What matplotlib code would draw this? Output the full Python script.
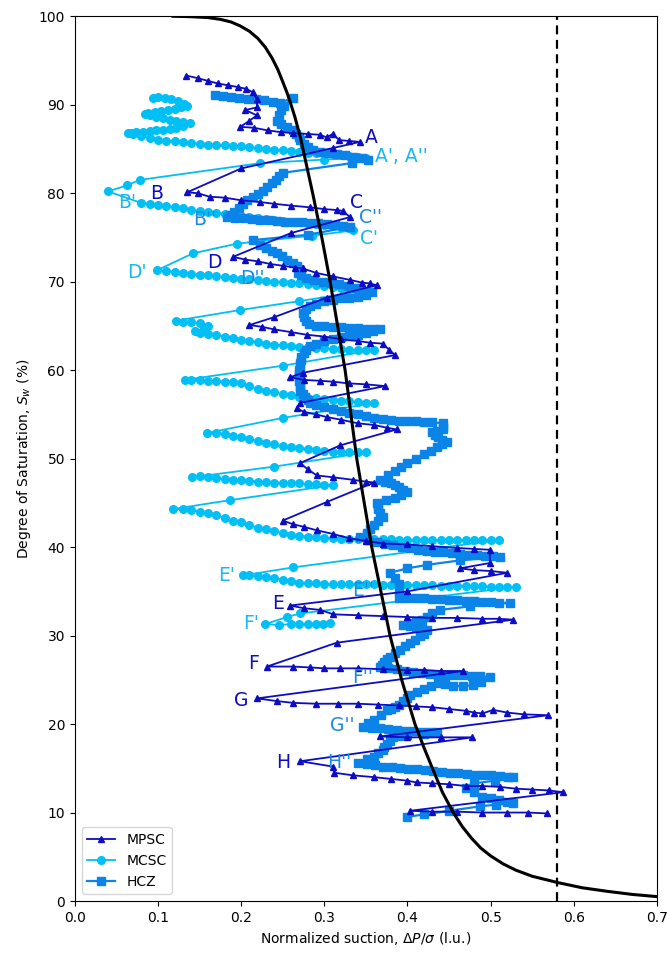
import matplotlib
matplotlib.use("Agg")
import matplotlib.pyplot as plt

# ---- retention curve ----
curve_x = [0.118, 0.140, 0.160, 0.175, 0.188, 0.199, 0.210, 0.220, 0.229, 0.237, 0.244, 0.250,
           0.255, 0.259, 0.265, 0.272, 0.279, 0.286, 0.297, 0.307, 0.316, 0.325, 0.332, 0.339,
           0.348, 0.357, 0.368, 0.379, 0.393, 0.409, 0.420, 0.430, 0.442, 0.455, 0.466, 0.477,
           0.488, 0.500, 0.515, 0.530, 0.550, 0.580, 0.610, 0.640, 0.670, 0.700]
curve_y = [100.0, 99.95, 99.85, 99.65, 99.35, 98.9, 98.3, 97.5, 96.5, 95.3, 94.0, 92.6,
           91.4, 90.3, 88.5, 86.0, 83.0, 80.0, 75.0, 70.0, 65.0, 60.0, 55.0, 50.0,
           45.0, 40.0, 35.0, 30.0, 25.0, 20.0, 17.3, 15.0, 12.3, 10.0, 8.4, 7.1,
           6.0, 5.1, 4.2, 3.5, 2.8, 2.1, 1.5, 1.1, 0.75, 0.5]

threshold_x = 0.58

# ---- MPSC ----
mpsc_x = [0.134, 0.148, 0.160, 0.172, 0.184, 0.196, 0.206, 0.214, 0.219,
          0.219, 0.205, 0.219, 0.210, 0.199,
          0.215, 0.232, 0.248, 0.262, 0.280, 0.295, 0.303, 0.310, 0.318, 0.330, 0.343,
          0.310, 0.200, 0.135,
          0.148, 0.162, 0.180, 0.200, 0.223, 0.240, 0.260, 0.283, 0.300, 0.315, 0.322, 0.331,
          0.260, 0.190,
          0.205, 0.220, 0.235, 0.250, 0.265, 0.274, 0.290, 0.310, 0.331, 0.345, 0.355, 0.363,
          0.303, 0.240, 0.210,
          0.225, 0.240, 0.260, 0.279, 0.300, 0.320, 0.340, 0.355, 0.370, 0.378, 0.385,
          0.274, 0.259, 0.275, 0.295, 0.310, 0.330, 0.350, 0.373,
          0.271, 0.267, 0.275, 0.290, 0.303, 0.320, 0.340, 0.360, 0.375, 0.387,
          0.319, 0.271, 0.280, 0.291, 0.310, 0.335, 0.350, 0.360,
          0.303, 0.250,
          0.262, 0.275, 0.291, 0.310, 0.330, 0.350, 0.371, 0.400, 0.430, 0.460, 0.480, 0.499,
          0.499, 0.463, 0.480, 0.500, 0.520,
          0.400, 0.259,
          0.275, 0.295, 0.311, 0.340, 0.370, 0.400, 0.430, 0.460, 0.490, 0.510, 0.527,
          0.315, 0.231,
          0.262, 0.283, 0.300, 0.319, 0.340, 0.370, 0.400, 0.420, 0.440, 0.467,
          0.219,
          0.243, 0.262, 0.290, 0.316, 0.340, 0.365, 0.390, 0.410, 0.430, 0.450, 0.470, 0.480,
          0.490, 0.503, 0.520, 0.540, 0.569,
          0.367, 0.400, 0.440, 0.478,
          0.271,
          0.310, 0.312, 0.335, 0.360, 0.380, 0.400, 0.411, 0.430, 0.450, 0.470, 0.490, 0.511,
          0.530, 0.550, 0.570, 0.587,
          0.403,
          0.430, 0.460, 0.490, 0.520, 0.545, 0.568]
mpsc_y = [93.3, 93.0, 92.7, 92.4, 92.2, 92.0, 91.8, 91.4, 90.6,
          89.7, 89.4, 88.8, 88.2, 87.5,
          87.4, 87.1, 86.9, 86.8, 86.7, 86.6, 86.3, 86.7, 86.0, 85.9, 85.8,
          85.1, 82.8, 80.1,
          80.0, 79.6, 79.5, 79.2, 79.0, 78.8, 78.6, 78.4, 78.2, 78.1, 78.0, 77.3,
          75.5, 72.8,
          72.5, 72.3, 72.0, 71.8, 71.6, 71.5, 71.0, 70.6, 70.2, 69.9, 69.8, 69.6,
          68.2, 66.0, 65.1,
          64.9, 64.6, 64.3, 64.0, 63.8, 63.5, 63.3, 63.1, 63.0, 62.3, 61.7,
          59.7, 59.2, 58.9, 58.8, 58.7, 58.5, 58.4, 58.2,
          56.3, 55.7, 55.3, 55.0, 54.7, 54.4, 54.0, 53.8, 53.5, 53.3,
          51.5, 49.5, 48.8, 48.1, 47.9, 47.6, 47.4, 47.3,
          45.1, 43.0,
          42.6, 42.3, 41.9, 41.5, 41.0, 40.7, 40.4, 40.3, 40.1, 39.9, 39.8, 39.7,
          38.2, 37.6, 37.4, 37.3, 37.1,
          35.0, 33.4,
          33.1, 32.9, 32.4, 32.3, 32.2, 32.1, 32.0, 32.0, 31.9, 31.9, 31.8,
          29.2, 26.5,
          26.5, 26.4, 26.3, 26.3, 26.3, 26.2, 26.1, 26.1, 26.0, 26.0,
          22.9,
          22.6, 22.4, 22.3, 22.3, 22.3, 22.2, 22.1, 22.0, 21.9, 21.7, 21.5, 21.3,
          21.2, 21.6, 21.3, 21.1, 21.0,
          18.6, 18.5, 18.5, 18.5,
          15.8,
          15.2, 14.5, 14.2, 14.0, 13.8, 13.6, 13.4, 13.3, 13.2, 13.0, 13.0, 12.9,
          12.7, 12.6, 12.5, 12.3,
          10.2,
          10.1, 10.1, 10.0, 10.0, 10.0, 9.9]

# ---- MCSC ----
mcsc_x = [0.094, 0.100, 0.108, 0.116, 0.124, 0.131, 0.135, 0.128, 0.120, 0.112, 0.104, 0.096,
          0.088, 0.084, 0.090, 0.098, 0.106, 0.114, 0.122, 0.130, 0.138, 0.130, 0.122, 0.114,
          0.106, 0.098, 0.090, 0.082, 0.074, 0.068, 0.064,
          0.07, 0.08, 0.09, 0.10, 0.11, 0.12, 0.13, 0.14, 0.15, 0.16, 0.17, 0.18, 0.19, 0.20,
          0.21, 0.22, 0.23, 0.24, 0.25, 0.26, 0.27, 0.28, 0.29, 0.30, 0.31, 0.32, 0.33, 0.34, 0.35,
          0.300, 0.223, 0.078, 0.063, 0.040,
          0.08, 0.09, 0.10, 0.11, 0.12, 0.13, 0.14, 0.15, 0.16, 0.17, 0.18, 0.19, 0.20,
          0.21, 0.22, 0.23, 0.24, 0.25, 0.26, 0.27, 0.28, 0.29, 0.30, 0.31, 0.32, 0.33,
          0.335, 0.285, 0.195, 0.142, 0.099,
          0.11, 0.12, 0.13, 0.14, 0.15, 0.16, 0.17, 0.18, 0.19, 0.20, 0.21, 0.22, 0.23,
          0.24, 0.25, 0.26, 0.27, 0.28, 0.29, 0.30, 0.31, 0.32, 0.33, 0.34, 0.35,
          0.270, 0.199, 0.122,
          0.130, 0.140, 0.150, 0.160, 0.155, 0.145, 0.150, 0.160, 0.170,
          0.18, 0.19, 0.20, 0.21, 0.22, 0.23, 0.24, 0.25, 0.26, 0.27, 0.28, 0.29, 0.30,
          0.31, 0.32, 0.33, 0.34, 0.35, 0.36,
          0.250, 0.132,
          0.14, 0.15, 0.16, 0.17, 0.18, 0.19, 0.20, 0.21, 0.22, 0.23, 0.24, 0.25,
          0.26, 0.27, 0.28, 0.29, 0.30, 0.31, 0.32, 0.33, 0.34, 0.35, 0.36,
          0.250, 0.159,
          0.17, 0.18, 0.19, 0.20, 0.21, 0.22, 0.23, 0.24, 0.25, 0.26, 0.27, 0.28,
          0.29, 0.30, 0.31, 0.32, 0.33, 0.34, 0.35,
          0.240, 0.141,
          0.15, 0.16, 0.17, 0.18, 0.19, 0.20, 0.21, 0.22, 0.23, 0.24, 0.25, 0.26,
          0.27, 0.28, 0.29, 0.30, 0.31,
          0.186, 0.118,
          0.13, 0.14, 0.15, 0.16, 0.17, 0.18, 0.19, 0.20, 0.21, 0.22, 0.23, 0.24, 0.25,
          0.26, 0.27, 0.28, 0.29, 0.30, 0.31, 0.32, 0.33, 0.34, 0.35, 0.36, 0.37, 0.38,
          0.39, 0.40, 0.41, 0.42, 0.43, 0.44, 0.45, 0.46, 0.47, 0.48, 0.49, 0.50, 0.51,
          0.262, 0.202,
          0.21, 0.22, 0.23, 0.24, 0.25, 0.26, 0.27, 0.28, 0.29, 0.30, 0.31, 0.32, 0.33,
          0.34, 0.35, 0.36, 0.37, 0.38, 0.39, 0.40, 0.41, 0.42, 0.43, 0.44, 0.45, 0.46,
          0.47, 0.48, 0.49, 0.50, 0.51, 0.52, 0.53,
          0.271, 0.255, 0.229,
          0.245, 0.260, 0.270, 0.280, 0.290, 0.298, 0.307]
mcsc_y = [90.8, 90.9, 90.8, 90.6, 90.4, 90.1, 89.9, 89.7, 89.5, 89.4, 89.3, 89.2,
          89.1, 89.0, 88.8, 88.6, 88.5, 88.3, 88.2, 88.0, 87.9, 87.6, 87.4, 87.3,
          87.2, 87.1, 87.0, 86.9, 86.9, 86.8, 86.8,
          86.7, 86.5, 86.2, 86.0, 85.9, 85.9, 85.8, 85.7, 85.6, 85.5, 85.5, 85.4, 85.3, 85.3,
          85.2, 85.1, 85.0, 84.9, 84.9, 84.8, 84.7, 84.6, 84.5, 84.5, 84.4, 84.3, 84.2, 84.1, 84.0,
          83.8, 83.4, 81.5, 80.9, 80.2,
          78.9, 78.8, 78.7, 78.6, 78.4, 78.3, 78.1, 78.0, 77.9, 77.8, 77.7, 77.6, 77.4,
          77.3, 77.2, 77.1, 77.0, 76.9, 76.8, 76.7, 76.6, 76.5, 76.4, 76.3, 76.2, 76.1,
          75.8, 75.2, 74.3, 73.2, 71.3,
          71.2, 71.1, 71.0, 70.9, 70.8, 70.7, 70.6, 70.5, 70.4, 70.3, 70.3, 70.2, 70.1,
          70.0, 70.0, 69.9, 69.8, 69.7, 69.6, 69.5, 69.4, 69.3, 69.2, 69.1, 69.0,
          67.8, 66.8, 65.6,
          65.5, 65.4, 65.3, 65.0, 64.7, 64.4, 64.2, 64.1, 64.0,
          63.8, 63.6, 63.4, 63.3, 63.2, 63.0, 62.9, 62.8, 62.7, 62.6, 62.6, 62.5, 62.5,
          62.4, 62.4, 62.3, 62.3, 62.3, 62.3,
          60.5, 58.9,
          58.9, 58.9, 58.8, 58.8, 58.7, 58.7, 58.5, 58.2, 57.9, 57.7, 57.5, 57.3,
          57.2, 57.0, 56.9, 56.8, 56.7, 56.6, 56.5, 56.5, 56.4, 56.3, 56.3,
          54.6, 52.9,
          52.9, 52.8, 52.6, 52.4, 52.2, 52.0, 51.8, 51.6, 51.4, 51.3, 51.2, 51.1,
          51.0, 50.9, 50.8, 50.8, 50.7, 50.7, 50.7,
          49.1, 47.9,
          48.0, 47.9, 47.8, 47.7, 47.6, 47.6, 47.5, 47.4, 47.4, 47.3, 47.3, 47.2,
          47.2, 47.1, 47.1, 47.0, 47.0,
          45.3, 44.3,
          44.3, 44.2, 44.0, 43.8, 43.6, 43.3, 43.0, 42.8, 42.5, 42.2, 42.0, 41.8, 41.6,
          41.4, 41.3, 41.2, 41.1, 41.0, 41.0, 40.9, 40.9, 40.9, 40.9, 40.9, 40.9, 40.9,
          40.8, 40.8, 40.8, 40.8, 40.8, 40.8, 40.8, 40.8, 40.8, 40.8, 40.8, 40.8, 40.8,
          37.7, 36.8,
          36.8, 36.7, 36.6, 36.5, 36.3, 36.2, 36.0, 35.9, 35.9, 35.8, 35.8, 35.8, 35.8,
          35.8, 35.8, 35.8, 35.7, 35.7, 35.7, 35.7, 35.7, 35.7, 35.7, 35.6, 35.6, 35.6,
          35.6, 35.6, 35.6, 35.5, 35.5, 35.5, 35.5,
          32.5, 32.1, 31.3,
          31.2, 31.3, 31.3, 31.3, 31.3, 31.3, 31.4]

# ---- HCZ ----
hcz_x = [0.168, 0.178, 0.188, 0.198, 0.208, 0.218, 0.228, 0.238, 0.247, 0.262,
         0.252, 0.248, 0.245, 0.243, 0.248, 0.255, 0.262, 0.266, 0.269, 0.271, 0.275, 0.280, 0.286,
         0.295, 0.305, 0.315, 0.325, 0.335, 0.345, 0.352,
         0.333, 0.250,
         0.246, 0.242, 0.237, 0.231, 0.226, 0.220, 0.214, 0.207, 0.202, 0.197, 0.192, 0.187, 0.183,
         0.193, 0.203, 0.213, 0.223, 0.233, 0.243, 0.253, 0.263, 0.273, 0.283, 0.293, 0.303,
         0.313, 0.323, 0.331,
         0.280, 0.214,
         0.223, 0.230, 0.237, 0.243, 0.249, 0.255, 0.262, 0.267, 0.270, 0.268, 0.272, 0.278,
         0.288, 0.298, 0.308, 0.318, 0.328, 0.338, 0.348, 0.357,
         0.350, 0.340, 0.330, 0.320, 0.310, 0.300, 0.290, 0.283, 0.278, 0.274, 0.275, 0.278, 0.282,
         0.290, 0.300, 0.310, 0.320, 0.330, 0.340, 0.350, 0.360, 0.367,
         0.358, 0.350, 0.340, 0.330, 0.320, 0.310, 0.300, 0.290, 0.283, 0.278, 0.275, 0.272,
         0.272, 0.271, 0.271, 0.270, 0.270, 0.270, 0.270, 0.271, 0.271, 0.271, 0.274, 0.277,
         0.280, 0.283,
         0.290, 0.300, 0.310, 0.320, 0.330, 0.340, 0.350, 0.360, 0.370, 0.380, 0.390, 0.400,
         0.410, 0.420, 0.430, 0.443,
         0.443, 0.443, 0.436, 0.430, 0.433, 0.437, 0.442, 0.447,
         0.441, 0.435, 0.428, 0.420, 0.410, 0.400, 0.392, 0.385, 0.376, 0.367, 0.373, 0.380,
         0.385, 0.390, 0.395, 0.400, 0.392, 0.385, 0.374, 0.363, 0.364, 0.365, 0.367, 0.370,
         0.365, 0.360, 0.355, 0.351, 0.343,
         0.353, 0.363, 0.373, 0.383, 0.393, 0.403, 0.413, 0.423, 0.433, 0.443, 0.453, 0.463,
         0.473, 0.483, 0.493, 0.503, 0.511,
         0.463, 0.424, 0.400, 0.379, 0.385, 0.390, 0.390, 0.390,
         0.400, 0.410, 0.420, 0.430, 0.440, 0.450, 0.460, 0.470, 0.480, 0.490, 0.500, 0.510, 0.523,
         0.475, 0.439, 0.430, 0.424, 0.417, 0.410, 0.403, 0.395, 0.403, 0.410, 0.417, 0.424,
         0.420, 0.415, 0.409, 0.403, 0.397, 0.391, 0.385, 0.379, 0.375, 0.372, 0.369, 0.367,
         0.377, 0.387, 0.397, 0.407, 0.417, 0.427, 0.437, 0.447, 0.457, 0.467, 0.477, 0.487, 0.499,
         0.489, 0.479, 0.467, 0.455, 0.445, 0.437, 0.428, 0.420, 0.411, 0.403, 0.399, 0.395,
         0.390, 0.385, 0.380, 0.375, 0.368, 0.360, 0.353, 0.347,
         0.357, 0.367, 0.377, 0.387, 0.397, 0.407, 0.417, 0.427, 0.436,
         0.420, 0.400, 0.390, 0.383, 0.379, 0.375, 0.372, 0.370, 0.365, 0.360, 0.351, 0.341,
         0.351, 0.361, 0.371, 0.381, 0.391, 0.401, 0.411, 0.421, 0.431, 0.441, 0.451, 0.461,
         0.471, 0.481, 0.491, 0.501, 0.511, 0.521, 0.527,
         0.505, 0.480, 0.470, 0.480, 0.490, 0.500, 0.510, 0.520, 0.527, 0.507, 0.487, 0.450,
         0.420, 0.399]
hcz_y = [91.1, 91.0, 90.9, 90.8, 90.7, 90.6, 90.5, 90.3, 90.2, 90.8,
         89.9, 89.4, 88.8, 88.2, 87.8, 87.5, 87.1, 86.7, 86.3, 86.0, 85.6, 85.2, 84.9,
         84.7, 84.6, 84.4, 84.3, 84.1, 84.0, 83.7,
         83.4, 82.3,
         81.9, 81.5, 81.1, 80.7, 80.3, 79.9, 79.6, 79.2, 78.8, 78.3, 77.9, 77.5, 77.3,
         77.2, 77.2, 77.1, 77.0, 77.0, 76.9, 76.8, 76.8, 76.7, 76.6, 76.6, 76.5,
         76.4, 76.3, 76.2,
         75.3, 74.7,
         74.1, 73.8, 73.5, 73.2, 72.9, 72.5, 72.1, 71.8, 71.4, 71.0, 70.7, 70.4,
         70.2, 70.0, 69.9, 69.7, 69.5, 69.3, 69.0, 68.8,
         68.5, 68.3, 68.2, 68.1, 67.9, 67.8, 67.5, 67.2, 66.9, 66.5, 66.0, 65.6, 65.2,
         65.0, 65.0, 64.9, 64.9, 64.8, 64.8, 64.7, 64.7, 64.7,
         64.4, 64.2, 64.0, 63.9, 63.7, 63.5, 63.3, 63.0, 62.7, 62.3, 61.9, 61.5,
         61.1, 60.8, 60.4, 60.0, 59.6, 59.2, 58.8, 58.5, 58.1, 57.7, 57.3, 57.0,
         56.6, 56.3,
         56.1, 55.8, 55.6, 55.4, 55.2, 55.0, 54.8, 54.6, 54.5, 54.4, 54.3, 54.2,
         54.2, 54.1, 54.1, 54.0,
         53.6, 53.3, 53.1, 53.0, 52.7, 52.4, 52.1, 51.9,
         51.6, 51.3, 50.9, 50.5, 50.0, 49.5, 49.0, 48.6, 48.1, 47.6, 47.4, 47.2,
         47.0, 46.8, 46.5, 46.2, 45.9, 45.6, 45.3, 45.0, 44.6, 44.3, 43.9, 43.4,
         43.0, 42.5, 42.0, 41.6, 41.1,
         40.8, 40.6, 40.4, 40.2, 40.0, 39.9, 39.7, 39.6, 39.5, 39.4, 39.3, 39.2,
         39.1, 39.1, 39.0, 39.0, 38.9,
         38.5, 38.0, 37.6, 37.1, 36.5, 35.8, 35.0, 34.3,
         34.3, 34.2, 34.2, 34.1, 34.1, 34.0, 34.0, 33.9, 33.9, 33.8, 33.8, 33.7, 33.7,
         33.3, 32.9, 32.5, 32.1, 31.8, 31.6, 31.4, 31.2, 31.1, 31.0, 30.8, 30.6,
         30.2, 29.9, 29.5, 29.2, 28.8, 28.4, 28.0, 27.6, 27.3, 27.0, 26.7, 26.4,
         26.3, 26.2, 26.0, 25.9, 25.8, 25.7, 25.6, 25.6, 25.5, 25.5, 25.4, 25.4, 25.3,
         24.8, 24.4, 24.3, 24.3, 24.5, 24.6, 24.3, 24.0, 23.6, 23.3, 23.0, 22.6,
         22.2, 21.9, 21.7, 21.6, 21.0, 20.5, 20.1, 19.7,
         19.6, 19.5, 19.4, 19.3, 19.2, 19.2, 19.1, 19.1, 19.1,
         18.9, 18.8, 18.6, 18.5, 18.1, 17.8, 17.4, 17.1, 16.7, 16.3, 16.0, 15.6,
         15.5, 15.4, 15.2, 15.1, 15.0, 14.9, 14.9, 14.8, 14.7, 14.6, 14.5, 14.5,
         14.4, 14.3, 14.2, 14.2, 14.1, 14.0, 14.0,
         13.6, 13.3, 12.8, 12.3, 11.8, 11.6, 11.4, 11.2, 11.1, 10.9, 10.7, 10.2,
         9.8, 9.5]

# ---- point labels ----
label_text = ["A", "A', A''", "B", "B'", "B''", "C", "C''", "C'", "D", "D'", "D''",
              "E", "E'", "E''", "F", "F'", "F''", "G", "G''", "H", "H''"]
label_x = [0.349, 0.361, 0.090, 0.052, 0.142, 0.331, 0.342, 0.343, 0.159, 0.063, 0.199,
           0.237, 0.172, 0.333, 0.208, 0.202, 0.333, 0.191, 0.307, 0.242, 0.303]
label_y = [86.3, 84.1, 80.0, 79.0, 77.0, 79.0, 77.2, 74.9, 72.2, 71.0, 70.4,
           33.6, 36.8, 35.1, 26.9, 31.4, 25.3, 22.7, 19.8, 15.7, 15.7]
label_series = ["MPSC", "MCSC", "MPSC", "MCSC", "HCZ", "MPSC", "HCZ", "MCSC", "MPSC", "MCSC", "HCZ",
                "MPSC", "MCSC", "HCZ", "MPSC", "MCSC", "HCZ", "MPSC", "HCZ", "MPSC", "HCZ"]

colors = {"MPSC": "#0c0cc4", "MCSC": "#00bff5", "HCZ": "#0a84e8"}
text_colors = {"MPSC": "#0c0cc4", "MCSC": "#18b8f5", "HCZ": "#1a8ae6"}

fig = plt.figure(figsize=(6.68, 9.56), dpi=100)
ax = fig.add_axes([0.112, 0.0575, 0.8715, 0.9255])

ax.plot(mpsc_x, mpsc_y, color=colors["MPSC"], marker="^", markersize=5, lw=1.3, label="MPSC", zorder=3)
ax.plot(mcsc_x, mcsc_y, color=colors["MCSC"], marker="o", markersize=5.5, lw=1.3, label="MCSC", zorder=2)
ax.plot(hcz_x, hcz_y, color=colors["HCZ"], marker="s", markersize=5.5, lw=1.6, label="HCZ", zorder=2.5)

ax.plot(curve_x, curve_y, color="black", lw=2.2, zorder=4)
ax.axvline(threshold_x, color="black", lw=1.6, ls=(0, (4, 2.5)), zorder=1)

for t, x, y, s in zip(label_text, label_x, label_y, label_series):
    ax.text(x, y, t, color=text_colors[s], fontsize=13.5, ha="left", va="center", zorder=5)

ax.set_xlim(0, 0.7)
ax.set_ylim(0, 100)
ax.set_xticks([0.0, 0.1, 0.2, 0.3, 0.4, 0.5, 0.6, 0.7])
ax.set_yticks([0, 10, 20, 30, 40, 50, 60, 70, 80, 90, 100])
ax.tick_params(labelsize=10)
ax.set_xlabel(r"Normalized suction, $\Delta P/\sigma$ (l.u.)", fontsize=10)
ax.set_ylabel(r"Degree of Saturation, $S_w$ (%)", fontsize=10)
ax.legend(loc="lower left", fontsize=10)

fig.savefig("out.png", dpi=100)
